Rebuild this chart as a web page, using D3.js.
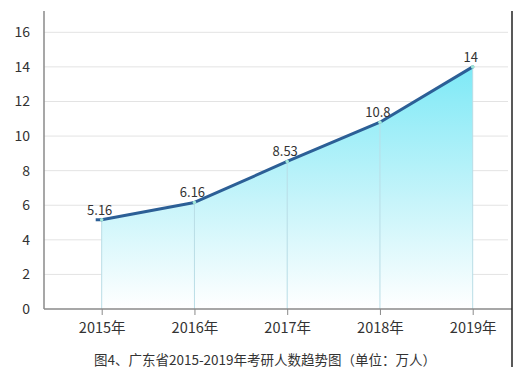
<!DOCTYPE html>
<html><head><meta charset="utf-8">
<script src="https://cdn.jsdelivr.net/npm/d3@7"></script>
<style>body{margin:0;background:#fff}svg{display:block}text{font-family:"Noto Sans CJK SC","Noto Sans",sans-serif}</style>
</head><body>
<svg id="c" width="527" height="386"></svg>
<script>
const categories = ["2015年","2016年","2017年","2018年","2019年"];
const values = [5.16, 6.16, 8.53, 10.8, 14];
const valueLabels = ["5.16","6.16","8.53","10.8","14"];
const yTicks = [0,2,4,6,8,10,12,14,16];
const caption = "图4、广东省2015-2019年考研人数趋势图（单位：万人）";

(function(){
const svg = d3.select("#c");
const pLeft = 44, pRight = 508, pTop = 11, pBottom = 309;
const x = d3.scalePoint().domain(categories).range([101.7, 472.7]);
const y = d3.scaleLinear().domain([0,16]).range([pBottom, 32.3]);

const defs = svg.append("defs");
const g = defs.append("linearGradient").attr("id","grad").attr("gradientUnits","userSpaceOnUse")
  .attr("x1",0).attr("x2",0).attr("y1",y(14)).attr("y2",y(0));
g.append("stop").attr("offset","0%").attr("stop-color","#7ee9f6");
g.append("stop").attr("offset","55%").attr("stop-color","#c6f4fa");
g.append("stop").attr("offset","100%").attr("stop-color","#ffffff");

svg.append("g").selectAll("line").data(yTicks.filter(d=>d>0)).join("line")
  .attr("x1",pLeft).attr("x2",pRight).attr("y1",d=>y(d)).attr("y2",d=>y(d))
  .attr("stroke","#e3e3e3").attr("stroke-width",1);

const data = categories.map((c,i)=>({c, v: values[i], l: valueLabels[i]}));

const area = d3.area().x(d=>x(d.c)).y0(y(0)).y1(d=>y(d.v)).curve(d3.curveLinear);
svg.append("path").datum(data).attr("d",area).attr("fill","url(#grad)");

svg.append("g").selectAll("line").data(data).join("line")
  .attr("x1",d=>x(d.c)).attr("x2",d=>x(d.c)).attr("y1",d=>y(d.v)).attr("y2",pBottom)
  .attr("stroke","#b9dde6").attr("stroke-width",1);

const line = d3.line().x(d=>x(d.c)).y(d=>y(d.v)).curve(d3.curveLinear);
svg.append("path").datum(data).attr("d",line).attr("fill","none")
  .attr("stroke","#2c5f96").attr("stroke-width",3).attr("stroke-linecap","round").attr("stroke-linejoin","round");
svg.append("line").attr("x1",x(categories[0])-6).attr("x2",x(categories[0]))
  .attr("y1",y(values[0])).attr("y2",y(values[0]))
  .attr("stroke","#2c5f96").attr("stroke-width",3);

svg.append("g").selectAll("circle").data(data).join("circle")
  .attr("cx",d=>x(d.c)).attr("cy",d=>y(d.v)).attr("r",1.8).attr("fill","#9fe6d8");

svg.append("g").selectAll("text").data(data).join("text")
  .attr("x",d=>x(d.c)-2).attr("y",d=>y(d.v)-5)
  .attr("text-anchor","middle").attr("font-size",13).attr("fill","#333")
  .text(d=>d.l);

const yAxis = d3.axisLeft(y).tickValues(yTicks).tickSize(0).tickPadding(14);
const ya = svg.append("g").attr("transform",`translate(${pLeft},0)`).call(yAxis);
ya.select(".domain").remove();
ya.selectAll("text").attr("font-size",14).attr("fill","#333");
svg.append("line").attr("x1",pLeft).attr("x2",pLeft).attr("y1",pTop).attr("y2",pBottom)
  .attr("stroke","#8a8a8a").attr("stroke-width",1.5);

const xAxis = d3.axisBottom(x).tickSize(6).tickPadding(8);
const xa = svg.append("g").attr("transform",`translate(0,${pBottom})`).call(xAxis);
xa.select(".domain").remove();
xa.selectAll("line").attr("stroke","#8a8a8a");
xa.selectAll("text").attr("font-size",14.5).attr("fill","#333");
svg.append("line").attr("x1",pLeft).attr("x2",pRight+4).attr("y1",pBottom).attr("y2",pBottom)
  .attr("stroke","#8a8a8a").attr("stroke-width",1.5);

svg.append("line").attr("x1",512).attr("x2",512).attr("y1",pTop).attr("y2",367)
  .attr("stroke","#222").attr("stroke-width",1.5);

svg.append("text").attr("x",265).attr("y",365).attr("text-anchor","middle")
  .attr("font-size",13.5).attr("fill","#333").text(caption);
})();
</script>
</body></html>
